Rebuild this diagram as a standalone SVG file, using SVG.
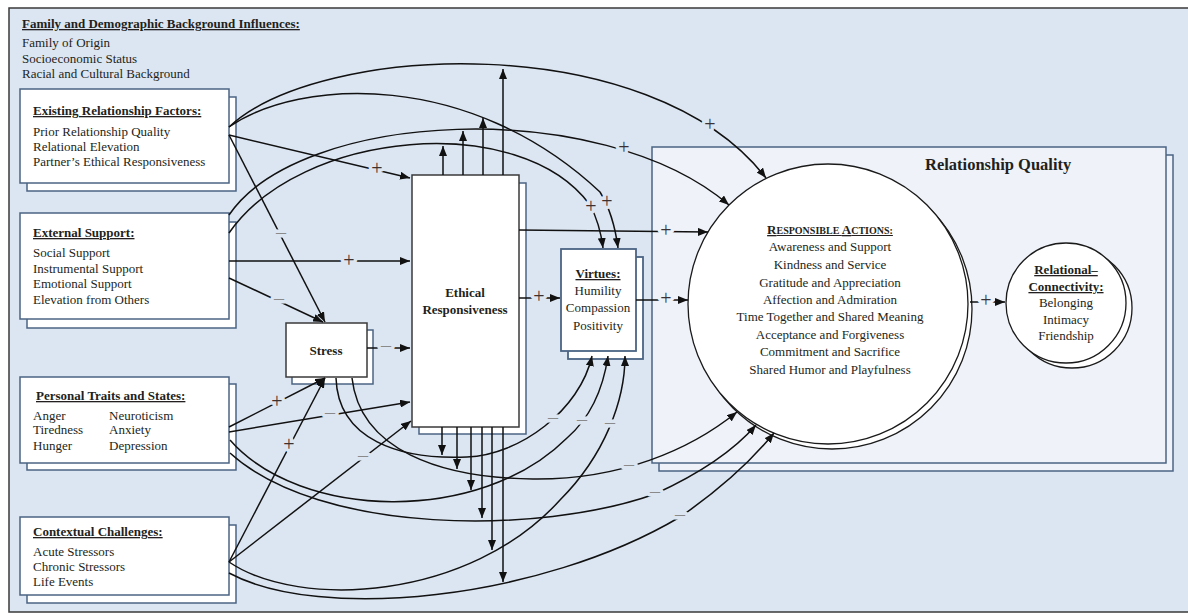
<svg xmlns="http://www.w3.org/2000/svg" width="1188" height="616" viewBox="0 0 1188 616">
<defs>
<style>
.t{font-family:"Liberation Serif","Times New Roman",serif;font-size:13px;fill:#231f20}
.b{font-weight:bold}
.u{text-decoration:underline}
.m{text-anchor:middle}
.box{fill:#ffffff;stroke:#4b6483;stroke-width:1.5}
.dbox{fill:#ffffff;stroke:#3a3a3a;stroke-width:1.5}
.cir{fill:#ffffff;stroke:#1a1a1a;stroke-width:1.3}
.c{fill:none;stroke:#111;stroke-width:1.5}
.lp{font-family:"Liberation Serif","Times New Roman",serif;font-size:20px;fill:#3c3030;stroke:#dce6f2;stroke-width:7;stroke-linejoin:round;paint-order:stroke;text-anchor:middle}
.lm{font-family:"Liberation Serif","Times New Roman",serif;font-size:20px;fill:#8a8a8a;stroke:#dce6f2;stroke-width:7;stroke-linejoin:round;paint-order:stroke;text-anchor:middle}
.in{stroke:#eff3f9}
</style>
<marker id="ah" viewBox="0 0 10 8" refX="10" refY="4" markerWidth="10" markerHeight="8" markerUnits="userSpaceOnUse" orient="auto"><path d="M0,0 L10,4 L0,8 z" fill="#111"/></marker>
</defs>

<rect x="9" y="8" width="1195" height="604" fill="#dce6f2" stroke="#3a3a3a" stroke-width="1.5"/>

<g id="family-background">
<text class="t b u" x="22" y="28">Family and Demographic Background Influences:</text>
<text class="t" x="22" y="47">Family of Origin</text>
<text class="t" x="22" y="63">Socioeconomic Status</text>
<text class="t" x="22" y="78">Racial and Cultural Background</text>
</g>

<g id="relationship-quality">
<rect x="659" y="155" width="514" height="316" fill="#eff3f9" stroke="#4b6483" stroke-width="1.5"/>
<rect x="652" y="147" width="514" height="316" fill="#eff3f9" stroke="#4b6483" stroke-width="1.5"/>
<text class="t b" x="925" y="170" style="font-size:16.5px">Relationship Quality</text>
</g>

<g id="existing-relationship-factors">
<rect class="box" x="27" y="97" width="209" height="94"/>
<rect class="box" x="20" y="89" width="209" height="94"/>
<text class="t b u" x="33" y="115">Existing Relationship Factors:</text>
<text class="t" x="33" y="136">Prior Relationship Quality</text>
<text class="t" x="33" y="151">Relational Elevation</text>
<text class="t" x="33" y="166">Partner’s Ethical Responsiveness</text>
</g>

<g id="external-support">
<rect class="box" x="27" y="222" width="209" height="106"/>
<rect class="box" x="20" y="213" width="209" height="106"/>
<text class="t b u" x="33" y="237">External Support:</text>
<text class="t" x="33" y="257">Social Support</text>
<text class="t" x="33" y="273">Instrumental Support</text>
<text class="t" x="33" y="288">Emotional Support</text>
<text class="t" x="33" y="304">Elevation from Others</text>
</g>

<g id="personal-traits">
<rect class="box" x="27" y="384" width="209" height="86"/>
<rect class="box" x="20" y="377" width="209" height="86"/>
<text class="t b u" x="36" y="400">Personal Traits and States:</text>
<text class="t" x="33" y="420">Anger</text>
<text class="t" x="33" y="434">Tiredness</text>
<text class="t" x="33" y="450">Hunger</text>
<text class="t" x="109" y="420">Neuroticism</text>
<text class="t" x="109" y="434">Anxiety</text>
<text class="t" x="109" y="450">Depression</text>
</g>

<g id="contextual-challenges">
<rect class="box" x="27" y="525" width="209" height="78"/>
<rect class="box" x="20" y="517" width="209" height="78"/>
<text class="t b u" x="33" y="536">Contextual Challenges:</text>
<text class="t" x="33" y="556">Acute Stressors</text>
<text class="t" x="33" y="571">Chronic Stressors</text>
<text class="t" x="33" y="586">Life Events</text>
</g>

<g id="stress">
<rect class="box" x="292" y="330" width="81" height="54"/>
<rect class="dbox" x="286" y="323" width="81" height="54"/>
<text class="t b m" x="326" y="355">Stress</text>
</g>

<g id="ethical-responsiveness">
<rect class="box" x="419" y="183" width="107" height="251"/>
<rect class="dbox" x="412" y="175" width="107" height="252"/>
<text class="t b m" x="465" y="297">Ethical</text>
<text class="t b m" x="465" y="314">Responsiveness</text>
</g>

<g id="virtues">
<rect class="box" x="568" y="257" width="75" height="102" style="stroke-width:1.8"/>
<rect class="box" x="561" y="249" width="75" height="102" style="stroke-width:1.8"/>
<text class="t b u m" x="598" y="278">Virtues:</text>
<text class="t m" x="598" y="295">Humility</text>
<text class="t m" x="598" y="312">Compassion</text>
<text class="t m" x="598" y="330">Positivity</text>
</g>

<g id="responsible-actions">
<circle class="cir" cx="832" cy="309" r="140"/>
<circle class="cir" cx="828" cy="304" r="140"/>
<text class="t b u m" x="830" y="234"><tspan>R</tspan><tspan style="font-size:10px">ESPONSIBLE </tspan><tspan>A</tspan><tspan style="font-size:10px">CTIONS:</tspan></text>
<text class="t m" x="830" y="251">Awareness and Support</text>
<text class="t m" x="830" y="269">Kindness and Service</text>
<text class="t m" x="830" y="287">Gratitude and Appreciation</text>
<text class="t m" x="830" y="304">Affection and Admiration</text>
<text class="t m" x="830" y="321">Time Together and Shared Meaning</text>
<text class="t m" x="830" y="339">Acceptance and Forgiveness</text>
<text class="t m" x="830" y="356">Commitment and Sacrifice</text>
<text class="t m" x="830" y="374">Shared Humor and Playfulness</text>
</g>

<g id="relational-connectivity">
<circle class="cir" cx="1072" cy="308" r="60"/>
<circle class="cir" cx="1066" cy="303" r="60"/>
<text class="t b u m" x="1066" y="274">Relational–</text>
<text class="t b u m" x="1066" y="291">Connectivity:</text>
<text class="t m" x="1066" y="307">Belonging</text>
<text class="t m" x="1066" y="324">Intimacy</text>
<text class="t m" x="1066" y="340">Friendship</text>
</g>

<g id="connectors">
<g class="c" marker-end="url(#ah)">
<path d="M229,135 L410,178"/>
<path d="M229,135 L325,322"/>
<path d="M229,261 L410,261"/>
<path d="M229,278 L323,322"/>
<path d="M229,427 L325,378"/>
<path d="M229,432 L410,402"/>
<path d="M229,562 L325,378"/>
<path d="M229,562 L411,421"/>
<path d="M367,348 L410,348"/>
<path d="M519,298 L560,298"/>
<path d="M519,230 L708,232"/>
<path d="M636,300 L688,300"/>
<path d="M970,302 L1005,302"/>
<path d="M443,175 L443,146"/>
<path d="M463,175 L463,131"/>
<path d="M483,175 L483,118"/>
<path d="M503,175 L503,69"/>
<path d="M442,427 L442,455"/>
<path d="M457,427 L457,469"/>
<path d="M471,427 L471,490"/>
<path d="M482,427 L482,518"/>
<path d="M492,427 L492,550"/>
<path d="M503,427 L503,582"/>
<path d="M229,127 C320,42 650,28 766,178"/>
<path d="M229,127 C300,78 470,70 600,192 C608,205 615,225 618,248"/>
<path d="M229,233 C300,130 520,110 590,205 C597,218 601,232 603,248"/>
<path d="M229,215 C300,110 600,95 729,205"/>
<path d="M336,378 C338,440 400,460 467,457 C520,455 580,410 592,356"/>
<path d="M352,378 C360,450 440,478 533,479 C620,480 690,450 737,412"/>
<path d="M230,440 C300,520 480,525 567,438 C590,418 603,390 608,356"/>
<path d="M230,453 C320,535 540,535 655,494 C690,478 730,455 756,425"/>
<path d="M229,562 C300,610 470,600 560,500 C605,455 625,400 625,356"/>
<path d="M229,573 C320,622 540,600 680,517 C715,493 748,465 774,433"/>
</g>
<g>
<text class="lp" x="377" y="175">+</text>
<text class="lp" x="349" y="267">+</text>
<text class="lp" x="710" y="131">+</text>
<text class="lp" x="624" y="154">+</text>
<text class="lp" x="591" y="213">+</text>
<text class="lp" x="607" y="208">+</text>
<text class="lp" x="539" y="303">+</text>
<text class="lp" x="277" y="408">+</text>
<text class="lp" x="289" y="451">+</text>
<text class="lp in" x="666" y="237">+</text>
<text class="lp in" x="666" y="305">+</text>
<text class="lp in" x="986" y="307">+</text>
<text class="lm" x="281" y="239">–</text>
<text class="lm" x="279" y="305">–</text>
<text class="lm" x="386" y="352">–</text>
<text class="lm" x="330" y="419">–</text>
<text class="lm" x="363" y="462">–</text>
<text class="lm" x="553" y="424">–</text>
<text class="lm" x="582" y="426">–</text>
<text class="lm" x="610" y="429">–</text>
<text class="lm" x="629" y="471">–</text>
<text class="lm" x="655" y="498">–</text>
<text class="lm" x="680" y="521">–</text>
</g>
</g>
</svg>
